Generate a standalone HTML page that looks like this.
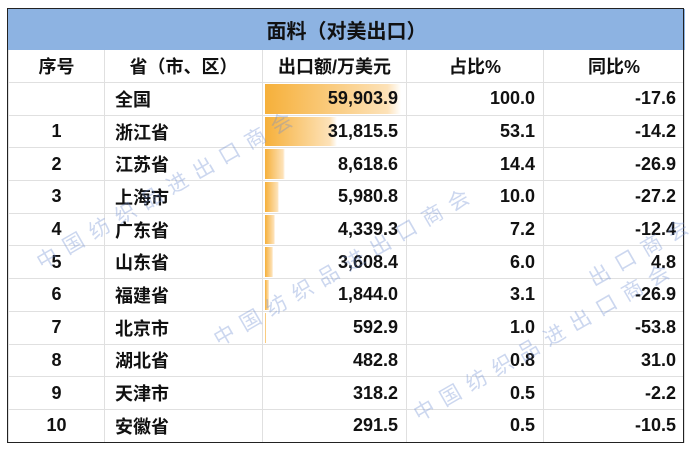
<!DOCTYPE html>
<html><head><meta charset="utf-8"><style>
body{margin:0;width:692px;height:450px;background:#fff;position:relative;overflow:hidden;font-family:"Liberation Sans","Noto Sans CJK SC",sans-serif;}
table{position:absolute;left:8px;top:9px;border-collapse:collapse;table-layout:fixed;}
td{border:1px solid #e0e0e0;height:32.7px;padding:0;font-weight:bold;font-size:18px;color:#111;box-sizing:border-box;position:relative;}
.t td{height:40px;background:#8db3e2;font-size:20px;text-align:center;border-color:#8db3e2;}
.h td{height:33px;text-align:center;}
.c{text-align:center}.l{padding-left:10px}.r{text-align:right;padding-right:8px}
.bar{position:absolute;left:2px;top:1px;bottom:1px;background:linear-gradient(90deg,#f6b03a,#fde2b8 90%,#fff);}
.v{position:relative}
.box{position:absolute;left:7px;top:8px;width:675px;height:433px;border:1.5px solid #222;}
.wm{position:absolute;color:rgba(110,140,210,0.35);font-size:21px;letter-spacing:9px;transform:rotate(-30deg);transform-origin:left center;white-space:nowrap;font-family:"Noto Sans CJK SC",sans-serif;}
</style></head><body>
<table>
<colgroup><col style="width:96px"><col style="width:158px"><col style="width:144px"><col style="width:137px"><col style="width:141px"></colgroup>
<tr class="t"><td colspan="5">面料（对美出口）</td></tr>
<tr class="h"><td>序号</td><td>省（市、区）</td><td>出口额/万美元</td><td>占比%</td><td>同比%</td></tr>
<tr><td class="c"></td><td class="l">全国</td><td class="r"><div class="bar" style="width:136px"></div><span class="v">59,903.9</span></td><td class="r">100.0</td><td class="r">-17.6</td></tr>
<tr><td class="c">1</td><td class="l">浙江省</td><td class="r"><div class="bar" style="width:72px"></div><span class="v">31,815.5</span></td><td class="r">53.1</td><td class="r">-14.2</td></tr>
<tr><td class="c">2</td><td class="l">江苏省</td><td class="r"><div class="bar" style="width:20px"></div><span class="v">8,618.6</span></td><td class="r">14.4</td><td class="r">-26.9</td></tr>
<tr><td class="c">3</td><td class="l">上海市</td><td class="r"><div class="bar" style="width:14px"></div><span class="v">5,980.8</span></td><td class="r">10.0</td><td class="r">-27.2</td></tr>
<tr><td class="c">4</td><td class="l">广东省</td><td class="r"><div class="bar" style="width:10px"></div><span class="v">4,339.3</span></td><td class="r">7.2</td><td class="r">-12.4</td></tr>
<tr><td class="c">5</td><td class="l">山东省</td><td class="r"><div class="bar" style="width:8px"></div><span class="v">3,608.4</span></td><td class="r">6.0</td><td class="r">4.8</td></tr>
<tr><td class="c">6</td><td class="l">福建省</td><td class="r"><div class="bar" style="width:4px"></div><span class="v">1,844.0</span></td><td class="r">3.1</td><td class="r">-26.9</td></tr>
<tr><td class="c">7</td><td class="l">北京市</td><td class="r"><div class="bar" style="width:1px"></div><span class="v">592.9</span></td><td class="r">1.0</td><td class="r">-53.8</td></tr>
<tr><td class="c">8</td><td class="l">湖北省</td><td class="r"><span class="v">482.8</span></td><td class="r">0.8</td><td class="r">31.0</td></tr>
<tr><td class="c">9</td><td class="l">天津市</td><td class="r"><span class="v">318.2</span></td><td class="r">0.5</td><td class="r">-2.2</td></tr>
<tr><td class="c">10</td><td class="l">安徽省</td><td class="r"><span class="v">291.5</span></td><td class="r">0.5</td><td class="r">-10.5</td></tr>
</table>
<div class="box"></div>
<div class="wm" style="left:38px;top:248px">中国纺织品进出口商会</div>
<div class="wm" style="left:215px;top:325px">中国纺织品进出口商会</div>
<div class="wm" style="left:415px;top:400px">中国纺织品进出口商会</div>
<div class="wm" style="left:590px;top:265px">出口商会</div>
</body></html>
